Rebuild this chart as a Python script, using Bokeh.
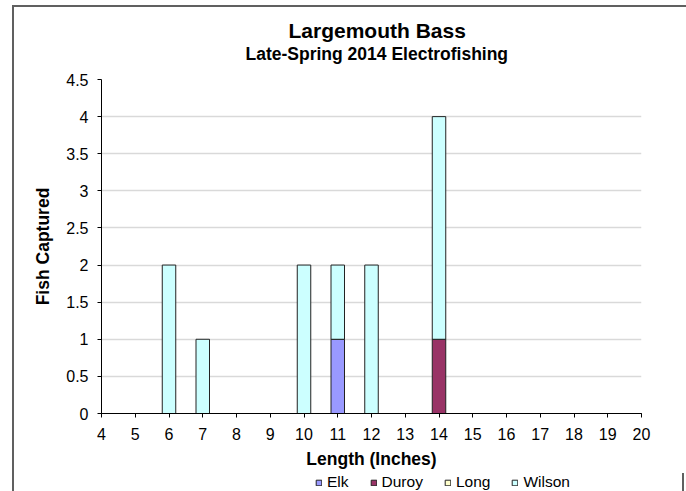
from bokeh.plotting import figure
from bokeh.layouts import column
from bokeh.models import (ColumnDataSource, FixedTicker, NumeralTickFormatter, Title, Legend)
from bokeh.embed import file_html
from bokeh.resources import INLINE

# ---- data ----
lengths = list(range(4, 21))
elk    = [0, 0, 0, 0, 0, 0, 0, 1, 0, 0, 0, 0, 0, 0, 0, 0, 0]
duroy  = [0, 0, 0, 0, 0, 0, 0, 0, 0, 0, 1, 0, 0, 0, 0, 0, 0]
long_  = [0, 0, 0, 0, 0, 0, 0, 0, 0, 0, 0, 0, 0, 0, 0, 0, 0]
wilson = [0, 0, 2, 1, 0, 0, 2, 1, 2, 0, 3, 0, 0, 0, 0, 0, 0]
series = ["Elk", "Duroy", "Long", "Wilson"]
colors = ["#9999FF", "#993366", "#FFFFCC", "#CCFFFF"]
y_ticks = [0, 0.5, 1, 1.5, 2, 2.5, 3, 3.5, 4, 4.5]
title_text = "Largemouth Bass"
subtitle_text = "Late-Spring 2014 Electrofishing"
x_label = "Length (Inches)"
y_label = "Fish Captured"

FONT = "Liberation Sans"
BORDER = "2px solid #606060"

src = ColumnDataSource(dict(x=lengths, Elk=elk, Duroy=duroy, Long=long_, Wilson=wilson))

p = figure(frame_width=536, frame_height=332, x_range=(4, 20), y_range=(0, 4.5),
           output_backend="svg", toolbar_location=None,
           min_border_left=87, min_border_right=49, min_border_top=72, min_border_bottom=62)
p.margin = (5, 0, 0, 12)
p.styles = {"border-left": BORDER, "border-top": BORDER, "border-right": BORDER,
            "box-sizing": "border-box"}
p.outline_line_color = None
p.background_fill_color = "white"
p.border_fill_alpha = 0

rs = p.vbar_stack(series, x="x", width=0.4, source=src, fill_color=colors,
                  line_color="#222222", line_width=1)

# axes
p.xaxis.ticker = FixedTicker(ticks=lengths)
p.yaxis.ticker = FixedTicker(ticks=y_ticks)
p.yaxis.formatter = NumeralTickFormatter(format="0.[0]")
for ax in (p.xaxis[0], p.yaxis[0]):
    ax.axis_line_color = "black"
    ax.axis_line_width = 1
    ax.major_tick_line_color = "black"
    ax.major_tick_in = 0
    ax.major_tick_out = 4
    ax.minor_tick_line_color = None
    ax.major_label_text_font = FONT
    ax.major_label_text_font_size = "16px"
    ax.major_label_text_color = "black"
    ax.axis_label_text_font = FONT
    ax.axis_label_text_font_size = "17.5px"
    ax.axis_label_text_font_style = "bold"
    ax.axis_label_text_color = "black"
p.xaxis.axis_label = x_label
p.yaxis.axis_label = y_label
p.yaxis.major_label_standoff = 9
p.yaxis.axis_label_standoff = 10
p.xaxis.major_label_standoff = 10
p.xaxis.axis_label_standoff = 6

p.xgrid.grid_line_color = None
p.ygrid.ticker = FixedTicker(ticks=y_ticks)
p.ygrid.grid_line_color = "#d9d9d9"
p.ygrid.grid_line_width = 1.5

# titles (first added sits closest to the frame); a blank spacer keeps them up
p.add_layout(Title(text=" ", text_font_size="1px", standoff=13), "above")
p.add_layout(Title(text=subtitle_text, align="left", offset=144, text_font=FONT,
                   text_font_size="17.5px", text_font_style="bold", text_color="black",
                   standoff=0), "above")
p.add_layout(Title(text=title_text, align="left", offset=187, text_font=FONT,
                   text_font_size="21px", text_font_style="bold", text_color="black",
                   standoff=0), "above")

# legend strip: a small plot whose frame is its whole canvas, so nothing is clipped
p2 = figure(width=672, height=18, x_range=(4, 20), y_range=(10, 11),
            output_backend="svg", toolbar_location=None,
            x_axis_location=None, y_axis_location=None, min_border=0)
p2.margin = (0, 0, 0, 12)
p2.styles = {"border-left": BORDER, "border-right": BORDER, "box-sizing": "border-box"}
p2.outline_line_color = None
p2.grid.visible = False
p2.background_fill_alpha = 0
p2.border_fill_alpha = 0
rs2 = p2.vbar_stack(series, x="x", width=0.4, source=src, fill_color=colors,
                    line_color="#222222", line_width=1)

legend = Legend(items=[(s, [r]) for s, r in zip(series, rs2)], orientation="horizontal",
                location=(214, 0), padding=0, margin=0, spacing=21,
                glyph_width=7, glyph_height=7, label_standoff=5, label_height=14,
                label_text_font=FONT, label_text_font_size="15.5px",
                label_text_color="black", border_line_color=None,
                background_fill_alpha=0)
p2.add_layout(legend)

layout = column(p, p2, spacing=0)
open("out.html", "w").write(file_html(layout, INLINE))
